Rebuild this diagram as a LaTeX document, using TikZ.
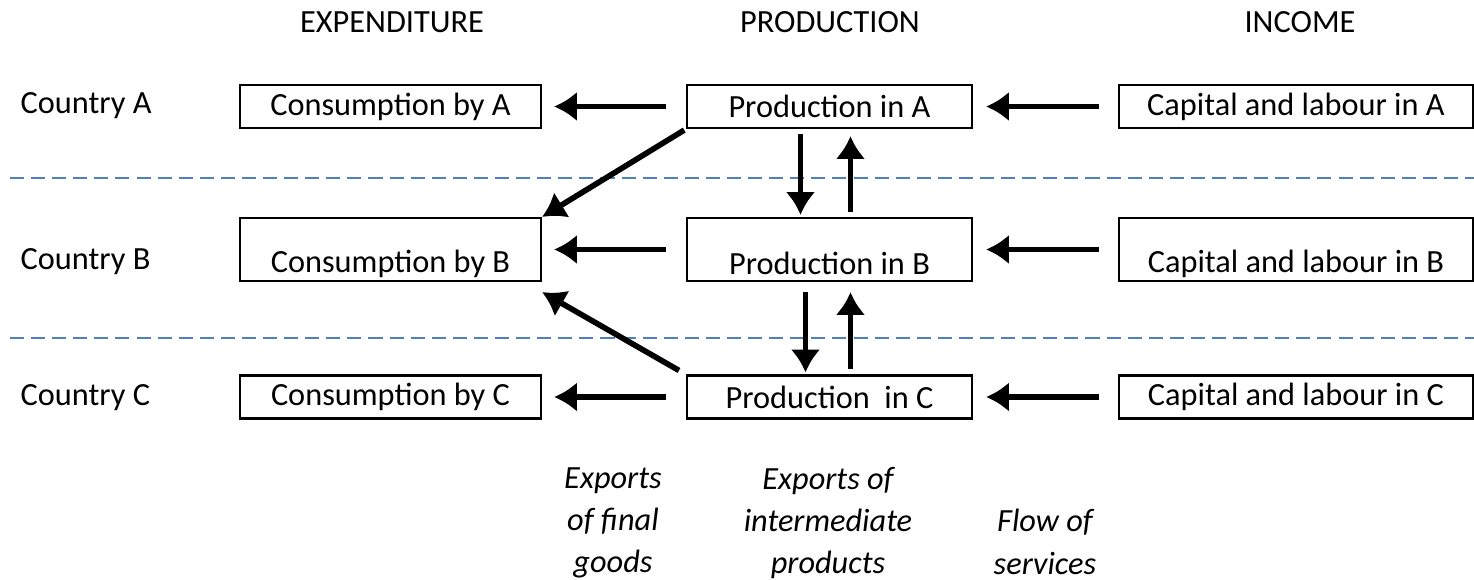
\documentclass[tikz,border=0pt]{standalone}
\usepackage{fontspec}
\setmainfont{Carlito}
\usetikzlibrary{arrows.meta}
\tikzstyle{EcoBox}=[rectangle, draw=black, line width=0.6pt, minimum height=0.43cm, inner sep=0pt, font=\fontsize{9.2}{11}\selectfont]
\tikzstyle{ConsNode}=[EcoBox, minimum width=3.01cm]
\tikzstyle{ProdNode}=[EcoBox, minimum width=2.85cm]
\tikzstyle{IncNode}=[EcoBox, minimum width=3.54cm]
\tikzstyle{RowLabel}=[font=\fontsize{9.2}{11}\selectfont, anchor=west, inner sep=0pt]
\tikzstyle{HeadLabel}=[font=\fontsize{9.2}{11}\selectfont]
\tikzstyle{NoteLabel}=[font=\fontsize{9.2}{11}\selectfont\itshape, align=center, anchor=north]
\tikzstyle{FlowEdge}=[-{Latex[length=6.5pt,width=8.5pt]}, line width=1.6pt]
\tikzstyle{Border}=[dashed, dash pattern=on 4pt off 2pt, line width=0.8pt, color=BorderBlue]
\definecolor{BorderBlue}{HTML}{4F81BD}
\newcommand{\lowtext}[1]{\raisebox{-4pt}[\height][\depth]{#1}}

\begin{document}
\begin{tikzpicture}
\useasboundingbox (0,0) rectangle (14.74,-5.80);

\node[HeadLabel](HExp) at (3.92,-0.22) {EXPENDITURE};
\node[HeadLabel](HProd) at (8.30,-0.22) {PRODUCTION};
\node[HeadLabel](HInc) at (13.00,-0.22) {INCOME};

\node[RowLabel](LA) at (0.20,-1.06) {Country A};
\node[RowLabel](LB) at (0.20,-2.62) {Country B};
\node[RowLabel](LC) at (0.20,-3.98) {Country C};

\node[ConsNode](CA) at (3.905,-1.065) {Consumption by A};
\node[ProdNode](PA) at (8.295,-1.065) {Production in A};
\node[IncNode](KA) at (12.96,-1.065) {Capital and labour in A};

\node[ConsNode, minimum height=0.63cm](CB) at (3.905,-2.495) {\lowtext{Consumption by B}};
\node[ProdNode, minimum height=0.63cm](PB) at (8.295,-2.495) {\lowtext{Production in B}};
\node[IncNode, minimum height=0.63cm](KB) at (12.96,-2.495) {\lowtext{Capital and labour in B}};

\node[ConsNode](CC) at (3.905,-3.97) {Consumption by C};
\node[ProdNode](PC) at (8.295,-3.97) {Production \ in C};
\node[IncNode](KC) at (12.96,-3.97) {Capital and labour in C};

\coordinate (BorderAW) at (0.10,-1.78);
\coordinate (BorderAE) at (14.74,-1.78);
\coordinate (BorderBW) at (0.10,-3.38);
\coordinate (BorderBE) at (14.74,-3.38);
\draw[Border](BorderAW) -- (BorderAE);
\draw[Border](BorderBW) -- (BorderBE);

% final goods
\draw[FlowEdge, shorten <=0.2cm, shorten >=0.12cm](PA.west) -- (CA.east);
\draw[FlowEdge, shorten <=0.2cm, shorten >=0.12cm](PB.west) -- (CB.east);
\draw[FlowEdge, shorten <=0.2cm, shorten >=0.12cm](PC.west) -- (CC.east);
\draw[FlowEdge, shorten <=0.02cm](PA.south west) -- (CB.north east);
\draw[FlowEdge, shorten <=0.08cm](PC.north west) -- ([yshift=-0.1cm]CB.south east);

% services
\draw[FlowEdge, shorten <=0.19cm, shorten >=0.13cm](KA.west) -- (PA.east);
\draw[FlowEdge, shorten <=0.19cm, shorten >=0.13cm](KB.west) -- (PB.east);
\draw[FlowEdge, shorten <=0.19cm, shorten >=0.13cm](KC.west) -- (PC.east);

% intermediate products
\draw[FlowEdge, shorten <=0.05cm, shorten >=0.02cm]([xshift=-0.29cm]PA.south) -- ([xshift=-0.29cm]PB.north);
\draw[FlowEdge, shorten <=0.05cm, shorten >=0.07cm]([xshift=0.21cm]PB.north) -- ([xshift=0.21cm]PA.south);
\draw[FlowEdge, shorten <=0.1cm, shorten >=0.02cm]([xshift=-0.24cm]PB.south) -- ([xshift=-0.24cm]PC.north);
\draw[FlowEdge, shorten <=0.05cm, shorten >=0.1cm]([xshift=0.21cm]PC.north) -- ([xshift=0.21cm]PB.south);

\node[NoteLabel](NFin) at (6.13,-4.55) {Exports\\[1pt] of final\\[1pt] goods};
\node[NoteLabel](NInt) at (8.28,-4.55) {Exports of\\[1pt] intermediate\\[1pt] products};
\node[NoteLabel](NSrv) at (10.45,-4.97) {Flow of\\[1pt] services};
\end{tikzpicture}
\end{document}
